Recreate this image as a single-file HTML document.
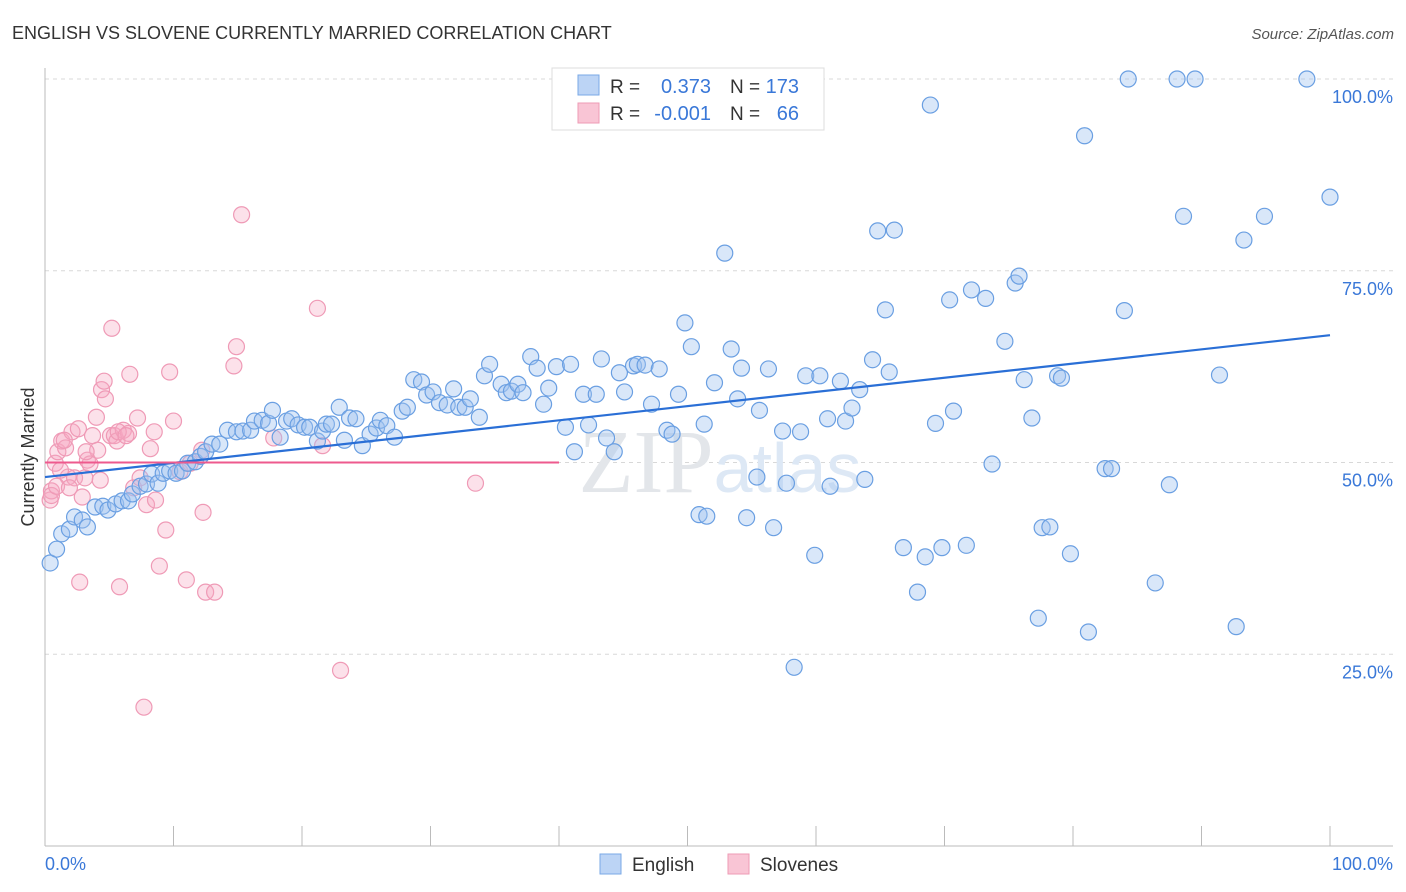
<!DOCTYPE html>
<html><head><meta charset="utf-8">
<style>
body{margin:0;background:#fff;font-family:"Liberation Sans",sans-serif;}
svg{display:block}
</style></head>
<body>
<svg id="chart" width="1406" height="892" xmlns="http://www.w3.org/2000/svg">
<text x="12" y="39" font-size="18" fill="#333">ENGLISH VS SLOVENE CURRENTLY MARRIED CORRELATION CHART</text>
<text x="1394" y="39" font-size="15" fill="#555" font-style="italic" text-anchor="end">Source: ZipAtlas.com</text>
<text transform="translate(34,457) rotate(-90)" font-size="18" fill="#333" text-anchor="middle">Currently Married</text>
<g id="grid"></g>
<g id="axes"></g>
<text x="720" y="492" font-size="90" fill="#e3e6ea" text-anchor="middle" font-family="Liberation Serif,serif">ZIP<tspan fill="#dde8f5" font-family="Liberation Sans,sans-serif" font-size="70">atlas</tspan></text>
<g id="pink"></g>
<g id="blue"></g>
<g id="trends"></g>
<g>
<rect x="552" y="68" width="272" height="62" fill="#fff" stroke="#ddd"/>
<rect x="578" y="75" width="21" height="20" fill="#bcd4f5" stroke="#7aa8e6"/>
<rect x="578" y="103" width="21" height="20" fill="#f9c5d5" stroke="#ee9bb5"/>
<text x="610" y="93" font-size="19" fill="#333">R = </text>
<text x="711" y="93" font-size="20" fill="#3a78d8" text-anchor="end">0.373</text>
<text x="730" y="93" font-size="19" fill="#333">N = </text>
<text x="799" y="93" font-size="20" fill="#3a78d8" text-anchor="end">173</text>
<text x="610" y="120" font-size="19" fill="#333">R = </text>
<text x="711" y="120" font-size="20" fill="#3a78d8" text-anchor="end">-0.001</text>
<text x="730" y="120" font-size="19" fill="#333">N = </text>
<text x="799" y="120" font-size="20" fill="#3a78d8" text-anchor="end">66</text>
</g>
<g>
<rect x="600" y="854" width="21" height="20" fill="#bcd4f5" stroke="#7aa8e6"/>
<text x="632" y="871" font-size="19" fill="#333">English</text>
<rect x="728" y="854" width="21" height="20" fill="#f9c5d5" stroke="#ee9bb5"/>
<text x="760" y="871" font-size="19" fill="#333">Slovenes</text>
</g>
</svg>
<script>
const NS="http://www.w3.org/2000/svg";
const yTicks=[25,50,75,100];
const yTickLabels=["25.0%","50.0%","75.0%","100.0%"];
const xTicks=[0,10,20,30,40,50,60,70,80,90,100];
const xEndLabels=["0.0%","100.0%"];
const englishX=[0.4,0.9,1.3,1.9,2.3,2.9,3.3,3.9,4.5,4.9,5.5,6.0,6.5,6.8,7.4,7.9,8.3,8.8,9.2,9.7,10.2,10.7,11.1,11.7,12.1,12.5,13.0,13.6,14.2,14.9,15.4,16.0,16.3,16.9,17.4,17.7,18.3,18.8,19.2,19.7,20.2,20.6,21.2,21.6,21.9,22.3,22.9,23.3,23.7,24.2,24.7,25.3,25.8,26.1,26.6,27.2,27.8,28.2,28.7,29.3,29.7,30.2,30.7,31.3,31.8,32.2,32.7,33.1,33.8,34.2,34.6,35.5,35.9,36.3,36.8,37.2,37.8,38.3,38.8,39.2,39.8,40.5,40.9,41.2,41.9,42.3,42.9,43.3,43.7,44.3,44.7,45.1,45.8,46.1,46.7,47.2,47.8,48.4,48.8,49.3,49.8,50.3,50.9,51.5,51.3,52.1,53.4,53.9,54.2,54.6,55.4,55.6,56.3,56.7,57.4,57.7,58.3,58.8,59.2,59.9,60.3,60.9,61.1,61.9,62.3,62.8,63.4,63.8,64.4,64.8,65.4,65.7,66.1,66.8,67.9,68.5,68.9,69.3,69.8,70.4,70.7,71.7,72.1,73.2,73.7,74.7,75.5,75.8,76.2,76.8,77.3,77.6,78.2,78.8,79.1,79.8,80.9,81.2,82.5,83.0,84.0,84.3,86.4,87.5,88.1,88.6,89.5,91.4,92.7,93.3,94.9,98.2,100,52.9];
const englishY=[36.9,38.7,40.7,41.3,42.9,42.5,41.6,44.2,44.3,43.8,44.6,45.0,45.0,45.9,46.9,47.2,48.5,47.3,48.6,48.9,48.6,48.9,49.9,50.1,50.8,51.4,52.4,52.4,54.2,54.0,54.1,54.2,55.4,55.5,55.1,56.8,53.3,55.4,55.7,54.9,54.6,54.6,52.8,54.1,55.0,55.0,57.2,52.9,55.8,55.7,52.2,53.7,54.5,55.5,54.8,53.3,56.7,57.2,60.8,60.5,58.8,59.2,57.8,57.5,59.6,57.2,57.2,58.3,55.9,61.3,62.8,60.2,59.1,59.3,60.2,59.1,63.8,62.3,57.6,59.7,62.5,54.6,62.8,51.4,58.9,54.9,58.9,63.5,53.2,51.4,61.7,59.2,62.6,62.8,62.7,57.6,62.2,54.2,53.7,58.9,68.2,65.1,43.2,43.0,55.0,60.4,64.8,58.3,62.3,42.8,48.1,56.8,62.2,41.5,54.1,47.3,23.3,54.0,61.3,37.9,61.3,55.7,46.9,60.6,55.4,57.1,59.5,47.8,63.4,80.2,69.9,61.8,80.3,38.9,33.1,37.7,96.6,55.1,38.9,71.2,56.7,39.2,72.5,71.4,49.8,65.8,73.4,74.3,60.8,55.8,29.7,41.5,41.6,61.3,61.0,38.1,92.6,27.9,49.2,49.2,69.8,100,34.3,47.1,100,82.1,100,61.4,28.6,79.0,82.1,100,84.6,77.3];
const sloveneX=[0.4,0.5,0.8,1.0,1.3,1.6,1.8,2.1,2.3,2.6,2.7,2.9,3.1,3.3,3.5,3.7,4.0,4.1,4.3,4.4,4.6,4.7,5.1,5.2,5.4,5.6,5.8,6.1,6.5,6.6,6.9,7.2,7.4,7.7,7.9,8.2,8.5,8.6,8.9,9.4,9.7,10.0,11.0,12.2,12.3,12.5,13.2,14.7,14.9,15.3,17.8,21.2,21.6,23.0,33.5,0.5,0.9,1.2,1.5,1.9,3.2,5.7,6.3,10.5,11.3];
const sloveneY=[45.1,46.3,49.9,51.4,52.8,51.9,48.1,54.0,48.0,54.4,34.4,45.5,48.0,50.3,49.8,53.5,55.9,51.6,47.7,59.5,60.6,58.3,53.5,67.5,53.5,52.8,33.8,54.2,53.8,61.5,46.7,55.8,48.0,18.1,44.5,51.8,54.0,45.1,36.5,41.2,61.8,55.4,34.7,51.6,43.5,33.1,33.1,62.6,65.1,82.3,53.2,70.1,52.2,22.9,47.3,45.7,46.9,49.0,52.9,46.7,51.4,54.0,53.5,48.8,49.9];
const englishTrend=[48.1,66.6];
const sloveneTrend=[50.0,50.0];
const sloveneTrendEnd=40;

const X0=45,X1=1330,Y0=846,Y100=79;
const sx=v=>X0+(X1-X0)*v/100;
const sy=v=>Y0-(Y0-Y100)*v/100;
function mk(tag,attrs,parent){const e=document.createElementNS(NS,tag);for(const k in attrs)e.setAttribute(k,attrs[k]);parent.appendChild(e);return e;}
const grid=document.getElementById('grid');
yTicks.forEach((t,i)=>{
  const l=mk('line',{x1:X0,x2:1393,y1:sy(t),y2:sy(t),stroke:'#d8d8d8','stroke-dasharray':'4,4'},grid);
  
  
  const tx=mk('text',{x:1393,y:sy(t)+24,'font-size':18,fill:'#3a78d8','text-anchor':'end'},grid);
  tx.textContent=yTickLabels[i];
  
  
});
const axes=document.getElementById('axes');
const ax=mk('line',{x1:X0,x2:1393,y1:Y0,y2:Y0,stroke:'#bbb'},axes);


const ay=mk('line',{x1:X0,x2:X0,y1:68,y2:Y0,stroke:'#bbb'},axes);


xTicks.forEach(t=>{
  const k=mk('line',{x1:sx(t),x2:sx(t),y1:826,y2:Y0,stroke:'#bbb'},axes);
  
  
});
const xl0=mk('text',{x:X0,y:870,'font-size':18,fill:'#3a78d8'},axes);
xl0.textContent=xEndLabels[0];


const xl1=mk('text',{x:1393,y:870,'font-size':18,fill:'#3a78d8','text-anchor':'end'},axes);
xl1.textContent=xEndLabels[1];



const pink=document.getElementById('pink');
sloveneX.forEach((v,i)=>{
  const c=mk('circle',{cx:sx(v),cy:sy(sloveneY[i]),r:8,fill:'rgba(246,170,195,0.35)',stroke:'#ef9ab6','stroke-width':1.2},pink);
  
  
});
const blue=document.getElementById('blue');
englishX.forEach((v,i)=>{
  const c=mk('circle',{cx:sx(v),cy:sy(englishY[i]),r:8,fill:'rgba(160,196,240,0.4)',stroke:'#6a9fe2','stroke-width':1.2},blue);
  
  
});
const tr=document.getElementById('trends');
const t1=mk('line',{x1:sx(0),x2:sx(100),y1:sy(englishTrend[0]),y2:sy(englishTrend[1]),stroke:'#2a6fd6','stroke-width':2.2},tr);


const t2=mk('line',{x1:sx(0),x2:sx(sloveneTrendEnd),y1:sy(sloveneTrend[0]),y2:sy(sloveneTrend[1]),stroke:'#ee5a8e','stroke-width':2},tr);


</script>
</body></html>
